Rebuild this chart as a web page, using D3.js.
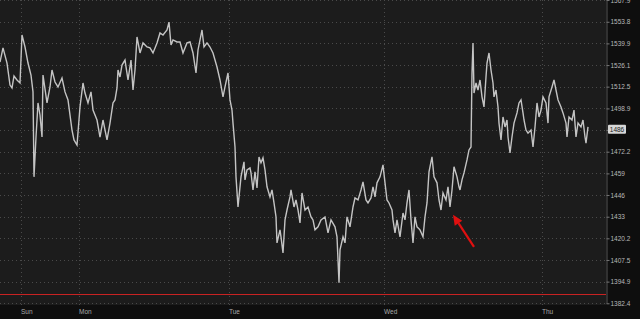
<!DOCTYPE html>
<html>
<head>
<meta charset="utf-8">
<script src="https://cdn.jsdelivr.net/npm/d3@7"></script>
<style>
  html, body { margin: 0; padding: 0; background: #0e0e0e; }
  svg { display: block; }
</style>
</head>
<body>
<div id="chart"></div>
<script>
// bar index (session bars) and traded price
const bars = [0,3,7,10,12,14,17,20,22,25,28,31,33,34,36,38,40,42,43,47,50,52,55,58,62,65,68,72,74,77,
  80,83,85,88,91,93,97,100,103,107,110,113,115,117,118,120,122,125,128,131,133,135,137,140,143,147,150,153,157,160,
  163,167,169,171,173,177,180,183,187,190,193,196,198,202,204,207,210,213,217,220,223,225,228,230,232,233,235,236,238,240,
  241,244,245,247,250,251,253,255,257,259,261,263,265,267,270,272,274,276,277,280,281,283,285,287,290,291,294,296,298,300,
  302,305,308,311,313,315,318,321,325,328,331,335,337,339,340,343,345,347,350,353,355,358,361,363,366,368,371,373,375,377,
  380,383,385,387,389,392,393,395,397,400,403,405,407,409,411,413,415,417,420,423,425,427,429,432,434,437,439,441,443,446,
  448,450,452,454,457,459,460,462,464,467,469,471,472,473,474,476,478,480,482,484,486,487,489,491,493,494,496,498,499,501,
  503,505,507,508,510,512,514,517,519,521,523,524,526,528,531,533,535,537,539,541,543,546,548,549,552,554,556,558,561,563,
  566,567,569,572,574,576,578,581,583,585,586,588];

const prices = [1528.0,1537.0,1527.4,1513.5,1511.7,1519.2,1516.7,1514.8,1545.3,1537.6,1527.4,1519.8,1509.2,1456.9,1481.2,1502.3,1494.8,1481.2,1519.8,1502.3,
  1512.3,1523.0,1515.4,1512.3,1517.9,1509.2,1504.2,1485.5,1479.4,1476.3,1499.8,1514.8,1508.5,1502.3,1509.2,1497.9,1491.7,1481.2,1491.7,1479.4,
  1489.8,1502.3,1504.2,1511.7,1523.0,1518.6,1526.1,1529.3,1516.7,1529.3,1510.4,1523.0,1544.0,1533.8,1540.2,1537.6,1537.0,1533.8,1540.2,1546.6,
  1545.3,1548.5,1553.6,1538.9,1542.1,1540.8,1540.8,1533.8,1540.2,1540.8,1533.8,1521.1,1535.7,1548.5,1537.6,1540.2,1537.6,1533.8,1524.9,1516.7,
  1506.1,1512.3,1521.1,1504.2,1497.9,1489.8,1475.1,1456.9,1438.8,1450.9,1456.9,1466.0,1455.1,1461.1,1462.3,1459.3,1449.0,1459.9,1450.2,1469.0,
  1465.4,1468.4,1461.1,1450.9,1444.8,1449.0,1441.2,1432.9,1417.5,1425.2,1421.1,1411.6,1431.1,1437.0,1444.8,1449.0,1438.8,1443.0,1437.0,1429.3,
  1447.2,1437.0,1438.8,1432.9,1431.1,1425.2,1427.0,1431.1,1432.9,1423.4,1431.1,1427.0,1421.1,1394.2,1413.4,1421.1,1417.5,1432.9,1427.0,1438.8,
  1444.2,1443.0,1449.0,1453.9,1443.0,1441.2,1444.2,1450.9,1444.8,1453.3,1456.9,1464.2,1453.3,1443.0,1441.2,1437.0,1431.1,1423.4,1431.1,1421.1,
  1435.2,1431.1,1441.2,1449.0,1431.1,1417.5,1432.9,1427.0,1425.2,1421.1,1432.9,1441.2,1459.9,1469.0,1456.9,1453.3,1443.0,1437.0,1447.2,1443.0,
  1450.9,1438.8,1449.0,1463.0,1456.9,1450.9,1449.0,1455.1,1459.3,1467.2,1473.3,1475.1,1521.1,1540.2,1508.5,1514.8,1510.4,1516.7,1506.1,1499.8,
  1518.6,1527.4,1533.8,1523.0,1514.8,1506.1,1510.4,1499.8,1489.8,1479.4,1493.6,1487.4,1491.7,1481.2,1471.5,1481.2,1489.8,1496.1,1502.3,1504.2,
  1496.1,1491.7,1485.5,1483.6,1485.5,1475.1,1487.4,1502.3,1493.6,1497.9,1506.1,1502.3,1489.8,1506.1,1512.3,1516.7,1510.4,1504.2,1499.8,1496.1,
  1489.8,1481.2,1493.6,1491.7,1497.9,1481.2,1489.8,1487.4,1491.7,1481.2,1477.5,1487.4];

const priceTicks = [1567.9,1553.8,1539.9,1526.1,1512.5,1498.9,1485.6,1472.2,1459,1446,1433,1420.2,1407.5,1394.9,1382.4];
const dayBars = [21,79,229,384,542];
const dayLabels = ['Sun','Mon','Tue','Wed','Thu'];
const lastPrice = 1486;
const redLevel = 1387.6;
const arrowTip = { bar: 453, price: 1434.1 };
const arrowTail = { bar: 474, price: 1415.2 };

const width = 640, height = 319;
const plotW = 606, plotH = 305;

const svg = d3.select('#chart').append('svg')
  .attr('width', width)
  .attr('height', height);

svg.append('rect').attr('width', width).attr('height', height).attr('fill', '#0e0e0e');
svg.append('rect').attr('width', plotW).attr('height', plotH).attr('fill', '#1c1c1c');

const x = d3.scaleLinear().domain([0, plotW]).range([0, plotW]);
const y = d3.scaleLog().domain([1382.4, 1567.9]).range([303.3, 0]);

// dotted grid
svg.append('g').selectAll('line').data(priceTicks).join('line')
  .attr('x1', 0).attr('x2', plotW)
  .attr('y1', d => Math.round(y(d)) + 0.5).attr('y2', d => Math.round(y(d)) + 0.5)
  .attr('stroke', '#4a4a4a').attr('stroke-dasharray', '1,3');

svg.append('g').selectAll('line').data(dayBars).join('line')
  .attr('x1', d => x(d) + 0.5).attr('x2', d => x(d) + 0.5)
  .attr('y1', 0).attr('y2', plotH)
  .attr('stroke', '#4a4a4a').attr('stroke-dasharray', '1,3');

// red level
svg.append('line')
  .attr('x1', 0).attr('x2', plotW)
  .attr('y1', Math.round(y(redLevel)) + 0.5).attr('y2', Math.round(y(redLevel)) + 0.5)
  .attr('stroke', '#c82222').attr('stroke-width', 1);

// price line
const series = bars.map((b, i) => ({ bar: b, price: prices[i] }));
svg.append('path')
  .datum(series)
  .attr('fill', 'none')
  .attr('stroke', '#c4c4c4')
  .attr('stroke-width', 1.4)
  .attr('stroke-linejoin', 'miter')
  .attr('d', d3.line()
    .x(d => x(d.bar))
    .y(d => y(d.price))
  );

// right price axis
const yAxis = svg.append('g')
  .attr('transform', 'translate(' + (plotW + 0.5) + ',0)')
  .call(d3.axisRight(y).tickValues(priceTicks).tickSize(3).tickSizeOuter(0)
    .tickFormat(d => d === 1485.6 ? '' : d3.format('')(d)));
yAxis.select('.domain').attr('stroke', '#555');
yAxis.selectAll('.tick line').attr('stroke', '#777');
yAxis.selectAll('.tick text')
  .attr('fill', '#b8b8b8')
  .attr('x', 4)
  .style('font', '6.5px "Liberation Sans", sans-serif');

// last price label
const ly = y(lastPrice);
svg.append('rect')
  .attr('x', plotW + 2).attr('y', ly - 4.5)
  .attr('width', 18).attr('height', 9)
  .attr('rx', 1)
  .attr('fill', '#d6d6d6');
svg.append('text')
  .attr('x', plotW + 11).attr('y', ly)
  .attr('dy', '0.35em')
  .attr('text-anchor', 'middle')
  .attr('fill', '#222')
  .style('font', '6.5px "Liberation Sans", sans-serif')
  .text(lastPrice);

// day labels
svg.append('g').selectAll('text').data(dayBars).join('text')
  .attr('x', d => x(d))
  .attr('y', 312)
  .attr('dy', '0.35em')
  .attr('fill', '#a8a8a8')
  .style('font', '6.5px "Liberation Sans", sans-serif')
  .text((d, i) => dayLabels[i]);

// red arrow
const tx = x(arrowTip.bar), ty = y(arrowTip.price);
const sx = x(arrowTail.bar), sy = y(arrowTail.price);
const ang = Math.atan2(ty - sy, tx - sx);
const headLen = 10, headW = 4.5;
const bx = tx - headLen * Math.cos(ang), by = ty - headLen * Math.sin(ang);
svg.append('line')
  .attr('x1', sx).attr('y1', sy).attr('x2', bx).attr('y2', by)
  .attr('stroke', '#e01010').attr('stroke-width', 2.2);
svg.append('path')
  .attr('d', d3.line()([
    [tx, ty],
    [bx + headW * Math.sin(ang), by - headW * Math.cos(ang)],
    [bx - headW * Math.sin(ang), by + headW * Math.cos(ang)]
  ]) + 'Z')
  .attr('fill', '#e01010');
</script>
</body>
</html>
